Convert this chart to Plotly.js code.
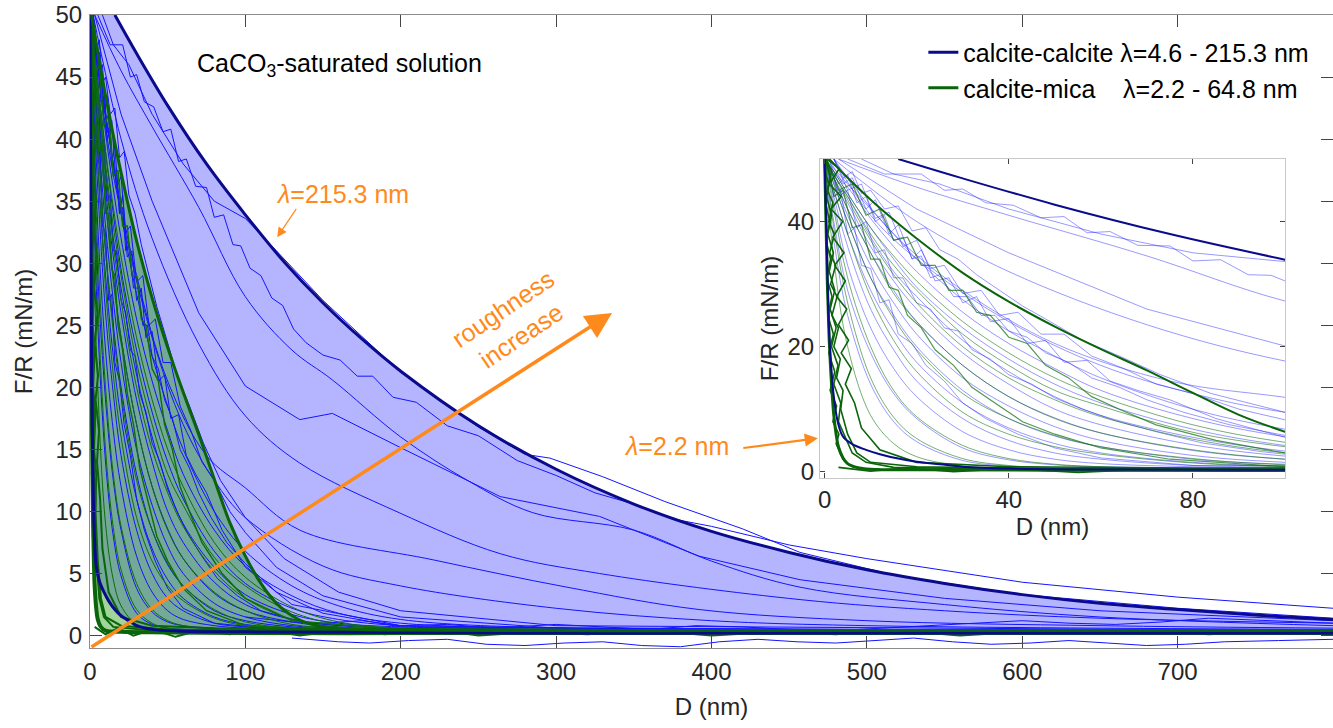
<!DOCTYPE html>
<html><head><meta charset="utf-8">
<script src="https://cdn.plot.ly/plotly-3.0.1.min.js"></script>
<style>html,body{margin:0;padding:0;background:#fff}#chart{width:1333px;height:728px}</style>
</head><body><div id="chart"></div>
<script>
// ---------- envelope curves ----------
const dUpperCC = [16,30,50,75,100,125,150,175,200,250,300,350,400,450,500,550,600,650,700,750,800];
const fUpperCC = [50.0,46.9,42.7,38.0,33.9,30.1,26.8,23.9,21.3,16.9,13.4,10.6,8.4,6.7,5.3,4.2,3.3,2.6,2.1,1.65,1.3];
const dLowerCC = [0,0.5,1,2,3,4,6,9,12,16,20,25,30,40,60,100,200,300,400,500,600,700,800];
const fLowerCC = [50,35,22,12,7.5,5.6,4.4,3.5,2.8,2.1,1.6,1.2,0.8,0.5,0.35,0.3,0.25,0.2,0.2,0.2,0.2,0.2,0.2];
const dUpperCM = [1,5,10,15,20,30,40,50,60,70,80,90,100,110,120,130,140,150,175,200,300,400,500,600,700,800];
const fUpperCM = [50,47,43.5,40.3,37.3,31.8,27.2,23.2,19.6,16.2,12.6,9.1,6.4,4.2,2.6,1.6,1.0,0.7,0.5,0.45,0.4,0.4,0.4,0.4,0.4,0.4];
const dLowerCM = [0,0.3,0.6,1,1.5,2,2.5,3,4,5,7,10,20,50,100,200,300,400,500,600,700,800];
const fLowerCM = [50,40,30,21,14,9,6,4,2.2,1.3,0.7,0.4,0.3,0.25,0.2,0.2,0.2,0.2,0.2,0.2,0.2,0.2];

// ---------- long calcite-calcite curves ----------
const dLB1 = [8,15,25,40,60,80,100,120,150,200,250,280,296,330,370,420,457,520,600,700,800];
const fLB1 = [50,47.6,46,42,38,35,33.6,31,27,21.2,16.8,14.6,14.3,12.8,10.8,8.6,6.7,4.8,3.3,2.2,1.4];
const dLB2 = [5,13,21,26,30,35,41,47,52,57,62,68,75,80,86,92,97,103,110,117,124,131,139,150,161,172,182,195,210,230,250,275,300,325,350,375,400,450,500,600,700,800];
const fLB2 = [50,47.6,47.6,45,45.2,43,42.6,40.6,40.8,38.2,38.4,36.2,36.1,33.7,33.9,31.5,31.4,29.6,29.0,27.2,26.6,24.7,23.6,22.6,22.2,20.9,20.9,19.2,18.8,16.9,16.1,14.1,12.9,11.5,10.6,9.4,8.8,7.3,6.2,4.3,3.1,2.2];
const dLB3 = [3,20,40,70,100,130,156,200,243,285,350,400,457,550,650,800];
const fLB3 = [50,45.5,41,34.5,27.3,23,20.6,16,12.5,9.9,8.5,6.0,3.9,2.5,1.5,0.8];
const dLB4 = [3,20,40,70,100,135,156,199,264,328,392,457,550,650,800];
const fLB4 = [50,42,35,26,20.1,17.4,17.9,15.2,11.2,9.6,6.4,4.5,3.0,2.0,1.2];
const dLB5 = [2,20,40,70,100,135,199,264,328,457,550,650,800];
const fLB5 = [50,40,32,23.5,17.7,13.9,9.9,6.6,5.0,2.9,2.0,1.4,1.0];
const dLB6 = [2,15,30,50,75,100,135,221,307,392,500,650,800];
const fLB6 = [50,38,29,20.5,14.5,11.9,8.5,6.1,3.9,2.1,1.2,0.8,0.6];
const dLB7 = [2,10,20,40,60,80,100,150,200,300,400,500,800];
const fLB7 = [50,41,34,24,17,12.5,9.5,5.6,4.0,2.2,1.2,0.8,0.5];
const dBB1 = [100,130,150,175,200,230,260,300,330,360,390,420,450,480,510,540,570,600,630,660,690,720,760,800];
const fBB1 = [1.5,1.1,1.0,1.2,0.8,0.9,0.6,0.9,0.7,0.5,0.8,0.7,0.5,0.4,0.6,0.8,1.0,1.2,1.0,0.9,1.1,1.4,1.2,1.0];
const dBB2 = [130,160,180,205,230,255,280,305,330,355,380,405,430,455,480,505,530,555,580,605,630,655,680,705,730,765,800];
const fBB2 = [-0.2,-0.5,-0.6,-0.4,-0.3,-0.7,-0.8,-0.6,-0.5,-0.8,-0.9,-0.5,-0.3,-0.5,-0.6,-0.4,-0.2,-0.5,-0.7,-0.6,-0.4,-0.6,-0.8,-0.7,-0.5,-0.4,-0.3];

// ---------- short curves on a shared D grid ----------
const dS = [0,2,5,10,15,20,30,40,50,60,80,100,130,160,200,300,500,800];
const fSB1 = [50,37,25,14,8,4.8,1.8,0.9,0.6,0.5,0.4,0.4,0.4,0.3,0.3,0.3,0.3,0.3];
const fSB2 = [50,40,29,19,12.5,8.5,3.8,1.9,1.1,0.8,0.6,0.5,0.4,0.4,0.3,0.3,0.3,0.3];
const fSB3 = [50,43,33,23,16.5,12,6.4,3.5,2.0,1.3,0.8,0.6,0.5,0.4,0.4,0.3,0.3,0.3];
const fSB4 = [50,44,36,26,19.5,14.5,8.5,5,3,2,1,0.7,0.5,0.5,0.4,0.3,0.3,0.3];
const fSB5 = [50,45,38,29,22.5,17.5,11,7,4.5,3,1.5,0.9,0.6,0.5,0.4,0.4,0.3,0.3];
const fSB6 = [50,46,40,31,25,20,13,8.5,5.7,4,2,1.2,0.7,0.5,0.5,0.4,0.3,0.3];
const fSB7 = [50,46.5,41,33,27,22,15,10.5,7.2,5,2.6,1.5,0.8,0.6,0.5,0.4,0.3,0.3];
const fSB8 = [50,47,42,35,29,24,17,12,8.6,6.2,3.4,2.0,1.1,0.7,0.5,0.4,0.3,0.3];
const fSB9 = [50,47,43,36,30.5,26,19,14,10,7.5,4.3,2.5,1.3,0.8,0.6,0.4,0.3,0.3];
const fSB10 = [50,47.5,44,37.5,32,28,21,16,12,9,5.5,3.3,1.7,1,0.7,0.5,0.3,0.3];
const fSB11 = [50,48,44.5,39,34,29.5,23,18,14,11,6.8,4.2,2.2,1.3,0.8,0.5,0.4,0.3];
const fSB12 = [50,48,45.5,40.5,36,32,25.5,20.5,16.5,13,8.5,5.6,3.2,1.8,1,0.6,0.4,0.3];
const fSB13 = [50,48.5,46,42,38,34,27.5,22.5,18.5,15,10,6.8,4,2.4,1.3,0.6,0.4,0.3];
const fG1 = [50,34,20,9,4.5,2.4,0.9,0.6,0.5,0.4,0.4,0.4,0.4,0.4,0.4,0.4,0.4,0.4];
const fG2 = [50,39,27,15,8.7,5.3,2.1,1.0,0.6,0.5,0.4,0.4,0.4,0.4,0.4,0.4,0.4,0.4];
const fG3 = [50,42,31,20,13,8.8,4.2,2.1,1.2,0.8,0.5,0.4,0.4,0.4,0.4,0.4,0.4,0.4];
const fG5 = [50,45,38,28,21,16,9.5,6.0,4.0,2.8,1.4,0.8,0.5,0.4,0.4,0.4,0.4,0.4];
const fG6 = [50,46,40,31,24.5,19.5,12.5,8.5,5.8,4.0,2.1,1.1,0.6,0.5,0.4,0.4,0.4,0.4];
const fG7 = [50,47,42,35,28.5,24,17,12,8.5,6.2,3.5,2.0,0.9,0.6,0.5,0.4,0.4,0.4];
const fG8 = [50,47.5,43.5,37,31.5,27,20,15,11.5,8.8,5.2,3.0,1.3,0.7,0.5,0.4,0.4,0.4];
const fG9 = [50,47.5,44,38,33,29,22,17,13,10.5,6.3,4.0,1.9,0.9,0.6,0.5,0.4,0.4];
const fG10 = [50,48,44.5,39,34.5,30.5,24,19,15,12,7.5,4.7,2.3,1.1,0.6,0.5,0.4,0.4];

// ---------- noisy measured curves ----------
const dNB1 = [1,4,6,9,11,14,16,19,21,24,27,30,33,36,40,44,48,52,57,62,68,75,85,100,130,200,400,800];
const fNB1 = [50,46,47,42,43.5,38,39.5,34,35.5,30.5,31,27,28,24,24.5,20.5,21,17.5,17.8,14.5,13,11.5,8.5,5.5,2.5,0.8,0.4,0.3];
const dNB2 = [2,5,8,11,14,17,20,23,26,30,34,38,42,47,52,58,65,72,80,90,100,120,150,200,300,800];
const fNB2 = [50,45,46,40.5,41.5,36,37,32.5,33,28.5,29,25,25.5,22,22,18.5,16.5,14,12.5,10,8.3,5.5,3.2,1.5,0.6,0.3];
const dNB3 = [0.5,2,3.5,5,6.5,8,10,12,14,16,19,22,26,30,35,42,50,60,80,120,200,800];
const fNB3 = [50,44,45,38,39,33,32.5,27,27.5,22,20.5,17,14.5,11,8.5,6,3.8,2.2,1,0.5,0.4,0.3];
const dNB4 = [1,3,5,7,9,11,13,15,17,19,21,23,25,28,31,34,37,40,44,48,53,58,64,70,78,88,100,120,150,200,800];
const fNB4 = [50,46,47.5,43,44,40,41,37,37.5,34,34.5,31,31.5,28,28,25,25,22.5,21.5,19,17.5,15,13.5,11.5,9.5,7.5,5.8,3.5,1.8,0.7,0.3];
const dNB5 = [1,3,5,7,9,11,13,15,17,20,23,26,29,32,36,40,45,50,56,63,72,82,95,110,140,200,800];
const fNB5 = [50,44,45,39,40,35,35.5,31,31,27,26,23,22.5,19.5,18,15.5,14,11.8,10,8.2,6.4,4.6,3.2,2.0,1.0,0.5,0.3];
const dNB6 = [2,4,6,8,10,13,16,19,22,25,29,33,38,43,49,56,64,73,84,100,125,160,200,300,800];
const fNB6 = [50,47,48,44.5,45,42,42.5,38.5,39,35.5,34,31.5,29,26.5,24,21,18.5,15.5,12.5,9.5,6.2,3.5,2.0,0.8,0.4];
const dNG1 = [0.5,3,6,9,12,15,18,21,24,27,30,33,36,40,44,48,53,58,64,72,85,100,130,200,800];
const fNG1 = [50,45,46,41,42,37,37.5,33,33,29,29,25.5,25,21.5,20.5,17,15,12,10,7.5,5,3,1.2,0.5,0.4];
const dNG2 = [0.5,2,4,6,8,10,12,14,16,18,21,24,28,32,37,43,50,60,75,100,150,800];
const fNG2 = [50,44,45,39,39.5,34,34,29.5,29,25,23,19.5,17,13.5,11,8,6,3.8,2,0.8,0.5,0.4];
const dNV1 = [0.3,1.5,0.6,1.8,0.9,2.1,1.1,2.4,1.3,2.7,1.6,3.0,2.0,3.4,2.6,4.0,3.5,5,7,10,20,50,100,200,400,600,800];
const fNV1 = [50,48,45,43,40,38,35,33,30,28,25,23,20,18,15,13,10,6,3,1.5,0.8,0.5,0.4,0.3,0.4,0.3,0.3];
const dNV2 = [0.2,1.2,0.4,1.5,0.7,1.9,1.0,2.2,1.2,2.5,1.5,2.9,2.0,3.5,3,4.5,6,9,15,40,100,300,800];
const fNV2 = [50,47,44,41,38,35,32,29,26,23,20,17,14,11,8,5.5,3,1.5,0.7,0.4,0.3,0.3,0.2];
const dNV3 = [0.5,3.2,1.0,3.6,1.4,3.9,1.8,4.2,2.2,4.5,2.6,4.8,3.0,5.2,3.6,5.8,4.5,6.5,8,12,20,40,80,200,500,800];
const fNV3 = [50,48.5,46,44,42,40,37.5,35,33,30.5,28,26,23.5,21,19,16.5,14,11,7,3.5,1.5,0.8,0.6,0.5,0.4,0.4];
const dNV4 = [0.1,0.9,0.2,1.1,0.3,1.3,0.5,1.6,0.7,1.9,0.9,2.2,1.2,2.6,1.8,3.1,2.5,3.5,4,5,6,8,12];
const fNV4 = [48,46,43,40,37,34,31,28,25,22,19,16,13,10.5,8,6,4.5,3,2,1.2,0.8,0.5,0.4];
const dBG = [3,10,18,28,40,55,70,90,110,135,160,190,220,250,285,320,360,400,440,480,520,560,600,640,680,720,760,800];
const fBG = [0.7,0.1,0.6,0.0,0.5,-0.1,0.4,0.1,0.5,0.0,0.4,0.1,0.5,0.0,0.3,0.1,0.4,0.0,0.3,0.1,0.4,0.0,0.3,0.2,0.4,0.1,0.3,0.2];

const xTicks = [0,100,200,300,400,500,600,700];
const yTicks = [0,5,10,15,20,25,30,35,40,45,50];
const xTicksInset = [0,40,80];
const yTicksInset = [0,20,40];

// ---------- traces ----------
const NAVY = '#0a0a8c', GREEN = '#0a640a', BLUE = '#1414ff', ORANGE = '#ff8a1c';
const traces = [];
function addLine(x, y, color, width, axes, shape, extra) {
  traces.push(Object.assign({
    type:'scatter', mode:'lines', x:x, y:y, xaxis:axes[0], yaxis:axes[1],
    showlegend:false, hoverinfo:'skip', line:{color:color, width:width, shape:shape||'linear'}
  }, extra||{}));
}
// fills (main only)
traces.push({type:'scatter', mode:'lines', x:dUpperCC.concat(dLowerCC.slice().reverse()),
  y:fUpperCC.concat(fLowerCC.slice().reverse()), fill:'toself', fillcolor:'rgba(0,0,255,0.29)',
  line:{width:0}, showlegend:false, hoverinfo:'skip'});
traces.push({type:'scatter', mode:'lines', x:dUpperCM.concat(dLowerCM.slice().reverse()),
  y:fUpperCM.concat(fLowerCM.slice().reverse()), fill:'toself', fillcolor:'rgba(20,150,0,0.40)',
  line:{width:0}, showlegend:false, hoverinfo:'skip'});

const smoothBlue = [[dLB3,fLB3],[dLB5,fLB5],[dLB6,fLB6],[dLB7,fLB7]];
const jaggedBlue = [[dLB1,fLB1],[dLB2,fLB2],[dLB4,fLB4],[dBB1,fBB1],[dBB2,fBB2],
  [dNB1,fNB1],[dNB2,fNB2],[dNB3,fNB3],[dNB4,fNB4],[dNB5,fNB5],[dNB6,fNB6]];
const shortBlue = [fSB1,fSB2,fSB3,fSB4,fSB5,fSB6,fSB7,fSB8,fSB9,fSB10,fSB11,fSB12,fSB13];
const shortGreen = [fG1,fG2,fG3,fG5,fG6,fG7,fG8,fG9,fG10];
const noisyGreen = [[dNG1,fNG1],[dNG2,fNG2]];
const wallGreen = [[dNV1,fNV1],[dNV2,fNV2],[dNV3,fNV3],[dNV4,fNV4],[dBG,fBG]];

const panels = [
  {axes:['x','y'], thin:1, blue:BLUE, green:'#0b6e0b', thick:3, wall:2},
  {axes:['x2','y2'], thin:0.8, blue:'rgba(20,20,255,0.55)', green:'rgba(10,110,10,0.7)', thick:2, wall:1.6}
];
panels.forEach(function(p, idx){
  smoothBlue.forEach(function(c){ addLine(c[0], c[1], p.blue, p.thin, p.axes, 'spline'); });
  shortBlue.forEach(function(f){ addLine(dS, f, p.blue, p.thin, p.axes, 'spline'); });
  jaggedBlue.forEach(function(c){ addLine(c[0], c[1], p.blue, p.thin, p.axes); });
  shortGreen.forEach(function(f){ addLine(dS, f, p.green, p.thin, p.axes, 'spline'); });
  noisyGreen.forEach(function(c){ addLine(c[0], c[1], p.green, p.thin + 0.4, p.axes); });
  wallGreen.forEach(function(c){ addLine(c[0], c[1], GREEN, p.wall, p.axes); });
  addLine(dLowerCM, fLowerCM, GREEN, p.thick + 1, p.axes, 'spline');
  addLine(dLowerCC, fLowerCC, NAVY, p.thick, p.axes, 'spline');
  addLine(dUpperCM, fUpperCM, GREEN, p.thick, p.axes, 'spline', idx===0 ? {showlegend:true, name:'calcite-mica\u00a0\u00a0\u00a0\u00a0\u03bb=2.2 - 64.8 nm', legendgroup:'b', legendrank:2} : {});
  addLine(dUpperCC, fUpperCC, NAVY, p.thick, p.axes, 'spline', idx===0 ? {showlegend:true, name:'calcite-calcite \u03bb=4.6 - 215.3 nm', legendgroup:'a', legendrank:1} : {});
});

const axCommon = {showgrid:false, zeroline:false, showline:true, linecolor:'#8c8c8c', linewidth:1,
  mirror:'ticks', ticks:'inside', tickcolor:'#444', tickfont:{size:24, color:'#262626'}};

const layout = {
  width:1333, height:728,
  margin:{l:90, r:0, t:15, b:80},
  paper_bgcolor:'#ffffff', plot_bgcolor:'#ffffff',
  font:{family:'Arial, "Liberation Sans", sans-serif', color:'#262626', size:24},
  showlegend:true,
  legend:{x:0.985, xanchor:'right', y:0.977, yanchor:'top', bgcolor:'rgba(0,0,0,0)',
    font:{size:25, color:'#000'}, traceorder:'grouped', tracegroupgap:0},
  xaxis:Object.assign({}, axCommon, {domain:[0,1], anchor:'y', range:[0,800], tickvals:xTicks, ticklen:12,
    ticklabelstandoff:2, title:{text:'D (nm)', font:{size:24, color:'#262626'}, standoff:14}}),
  yaxis:Object.assign({}, axCommon, {domain:[0,1], anchor:'x', range:[-1,50], tickvals:yTicks, ticklen:12,
    ticklabelstandoff:2, title:{text:'F/R (mN/m)', font:{size:24, color:'#262626'}, standoff:16}}),
  xaxis2:Object.assign({}, axCommon, {domain:[0.5873,0.9614], anchor:'y2', range:[-1,100], tickvals:xTicksInset, ticklen:5,
    linecolor:'#c8c8c8', title:{text:'D (nm)', font:{size:24, color:'#262626'}, standoff:0}}),
  yaxis2:Object.assign({}, axCommon, {domain:[0.2686,0.7725], anchor:'x2', range:[-1,50], tickvals:yTicksInset, ticklen:5,
    linecolor:'#c8c8c8', title:{text:'F/R (mN/m)', font:{size:24, color:'#262626'}, standoff:2}}),
  annotations:[
    {xref:'x', yref:'y', x:67.6, y:46.0, xanchor:'left', yanchor:'middle', showarrow:false,
      text:'CaCO<sub>3</sub>-saturated solution', font:{size:25, color:'#000'}},
    {xref:'x', yref:'y', x:118.3, y:35.6, xanchor:'left', yanchor:'middle', showarrow:false,
      text:'<i>\u03bb</i>=215.3 nm', font:{size:25, color:ORANGE}},
    {xref:'x', yref:'y', axref:'x', ayref:'y', x:120.5, y:32.1, ax:133.4, ay:34.5, text:'', showarrow:true,
      arrowhead:2, arrowsize:1.6, arrowwidth:1.2, arrowcolor:ORANGE},
    {xref:'x', yref:'y', x:271.6, y:25.2, showarrow:false, textangle:-34,
      text:'roughness<br>increase', font:{size:25, color:ORANGE}},
    {xref:'x', yref:'y', axref:'x', ayref:'y', x:336, y:26.0, ax:0, ay:-1, text:'', showarrow:true,
      arrowhead:2, arrowsize:1.5, arrowwidth:3.5, arrowcolor:ORANGE},
    {xref:'x', yref:'y', x:377.7, y:15.3, showarrow:false,
      text:'<i>\u03bb</i>=2.2 nm', font:{size:25, color:ORANGE}},
    {xref:'x', yref:'y', axref:'x', ayref:'y', x:468.5, y:15.9, ax:419.5, ay:15.1, text:'', showarrow:true,
      arrowhead:2, arrowsize:1.2, arrowwidth:2.2, arrowcolor:ORANGE}
  ]
};

Plotly.newPlot('chart', traces, layout, {displayModeBar:false, staticPlot:true});
</script></body></html>
